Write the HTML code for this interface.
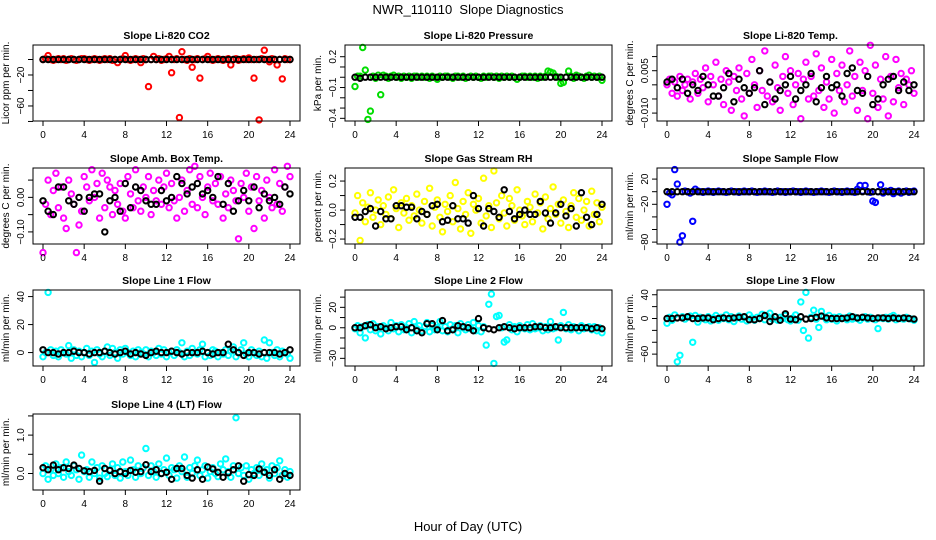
<!DOCTYPE html>
<html><head><meta charset="utf-8"><style>
body{margin:0;background:#fff}
svg{display:block;font-family:"Liberation Sans",sans-serif}
</style></head><body>
<svg id="c" width="936" height="540" viewBox="0 0 936 540">
<rect width="936" height="540" fill="#fff"/>
<text x="468" y="14" text-anchor="middle" font-size="13" style="white-space:pre">NWR_110110  Slope Diagnostics</text>
<text x="468" y="531" text-anchor="middle" font-size="13">Hour of Day (UTC)</text>
</svg>
<script>
const xTicks = [0,4,8,12,16,20,24];
const titles = ["Slope Li-820 CO2","Slope Li-820 Pressure","Slope Li-820 Temp.","Slope Amb. Box Temp.","Slope Gas Stream RH","Slope Sample Flow","Slope Line 1 Flow","Slope Line 2 Flow","Slope Line 3 Flow","Slope Line 4 (LT) Flow"];
const yTitles = ["Licor ppm per min.","kPa per min.","degrees C per min.","degrees C per min.","percent per min.","ml/min per min.","ml/min per min.","ml/min per min.","ml/min per min.","ml/min per min."];
const yRanges = [[-79.4,18.7],[-0.426,0.314],[-0.0128,0.0141],[-0.135,0.085],[-0.234,0.29],[-83,37.6],[-9.6,44.7],[-37.5,37],[-80,48],[-0.43,1.55]];
const yTickVals = [[0,-20,-40,-60,-80],[0.2,0.1,0,-0.1,-0.2,-0.3,-0.4],[0.01,0.005,0,-0.005,-0.01],[0.05,0,-0.05,-0.1],[0.2,0.1,0,-0.1,-0.2],[20,0,-20,-40,-60,-80],[40,20,0],[30,20,10,0,-10,-20,-30],[40,20,0,-20,-40,-60],[1.5,1.0,0.5,0.0]];
const yTickLabels = [{"-20":"−20","-60":"−60"},{"0.2":"0.2","-0.1":"−0.1","-0.4":"−0.4"},{"0.005":"0.005","-0.01":"−0.010"},{"0":"0.00","-0.1":"−0.10"},{"0.2":"0.2","0":"0.0","-0.2":"−0.2"},{"20":"20","-20":"−20","-80":"−80"},{"40":"40","20":"20","0":"0"},{"20":"20","0":"0","-30":"−30"},{"40":"40","0":"0","-60":"−60"},{"1":"1.0","0":"0.0"}];
const colors = ["#ff0000","#00dd00","#ff00ff","#ff00ff","#ffff00","#0000ff","#00ffff","#00ffff","#00ffff","#00ffff"];

const co2Color = [0,1,5,0,-1,0,1,0,1,-1,0,1,0,-1,0,1,1,0,-1,0,1,0,-1,0,1,0,1,-1,0,-4,0,1,5,0,-1,0,1,0,-4,1,0,-35,0,4,0,1,-1,0,1,4,-17,0,1,-75,10,0,-1,1,-10,0,1,-24,0,1,4,0,-1,0,1,0,-1,0,1,-7,0,1,-1,0,1,0,2,0,-24,0,-78,1,12,0,-3,1,0,-7,0,-25,1,0,0];
const co2Black = [0,0,0,0,0,0,0,0,0,0,0,0,0,0,0,0,0,0,0,0,0,0,0,0,0,0,0,0,0,0,0,0,0,0,0,0,0,0,0,0,0,0,0,0,0,0,0,0,0];
const presColor = [-0.09,0.01,0.01,0.29,0.07,-0.41,-0.33,0.01,-0.01,0.02,-0.17,0.02,0.01,-0.01,0.01,0.02,0,0.01,-0.01,0.01,0,0.01,-0.01,0.01,0.01,0,0.01,0,0.01,-0.01,0.01,0,-0.02,0.01,0,0.01,0.01,0,-0.01,0.01,0.01,0,0.01,-0.01,0,0.01,0,0.01,0,-0.01,0.01,0,0.01,0.01,0,0.01,-0.01,0.01,0,0.01,0,0.01,0,-0.02,0,0.01,0.01,0,0.01,0,0.01,-0.01,0.01,0,0.01,0.06,0.05,0.04,0.01,0,-0.06,-0.05,0,0.06,0.01,-0.01,0.02,0.01,0,-0.01,0.01,0.02,0,0.01,0,0.01,-0.03];
const presBlack = [0,-0.01,0,0,0,0,0,0,0,0,0,0,0,0,0,0,0,0,0,0,0,0,0,0,0,0,0,0,0,0,0,0,0,0,0,0,0,0,0,0,0,0,0,0,0,0,0,0,0];
const tempColor = [0,0.002,-0.003,0.001,-0.004,0.003,-0.002,0,0.002,-0.005,0.001,0.004,-0.003,0.002,-0.001,0.006,-0.006,0.003,0,0.008,-0.004,0.002,-0.007,0.005,0.001,-0.009,0.003,-0.002,0.006,-0.005,-0.011,0.004,-0.003,0.009,0,-0.008,0.005,-0.002,0.012,-0.004,0.001,-0.006,0.007,-0.001,-0.009,0.003,0.01,-0.003,0.005,-0.007,0,0.004,-0.012,0.002,0.008,-0.005,0.003,-0.004,0.011,-0.002,0.006,-0.008,0.001,-0.005,0.009,-0.01,0.004,-0.002,0.007,-0.006,0,0.012,-0.004,0.003,-0.009,0.008,-0.002,0.005,-0.012,0.014,-0.003,0.007,-0.008,0.002,-0.005,0.01,-0.011,0.003,-0.006,0.009,-0.001,0.004,-0.007,0.002,0,0.005,-0.003];
const tempBlack = [0.001,0.002,-0.001,0.002,-0.003,0,-0.002,0.003,0,-0.004,-0.004,-0.001,0.004,-0.006,0.002,-0.001,-0.003,-0.001,0.005,-0.007,0.001,-0.005,-0.002,0,0.003,-0.005,-0.002,0,0.004,-0.006,-0.001,0.003,-0.001,0,-0.004,0.004,0.006,-0.002,-0.003,0.003,-0.007,-0.005,0,0.002,0.003,-0.002,0.001,-0.002,0];
const boxColor = [-0.16,-0.02,0.05,-0.05,0.02,0.07,-0.03,0.03,-0.06,-0.09,0.05,0.01,-0.02,-0.16,-0.08,-0.04,0.06,0.03,-0.01,0.08,0,0.04,-0.06,0.07,-0.03,0.05,0.03,-0.05,0.02,-0.02,0.04,-0.04,-0.06,0.06,0.01,-0.03,0.08,-0.01,-0.04,0.03,0,0.06,-0.05,0.02,-0.01,0.05,-0.02,0.03,0.07,-0.03,0.04,-0.01,-0.06,0,0.05,-0.04,0.02,0.08,-0.02,0.09,-0.03,0.06,0,-0.05,0.03,0.07,-0.01,0.04,-0.02,0.06,-0.06,0.01,-0.03,0.05,0.02,-0.01,-0.12,0.04,0,0.07,-0.04,0.03,-0.09,0.06,-0.01,0.02,-0.06,0.05,0,-0.03,0.08,-0.02,0.04,-0.04,0.03,0.09,0.06];
const boxBlack = [-0.01,-0.04,-0.05,0.03,0.03,-0.01,-0.02,0,-0.04,0,0.01,0.01,-0.1,-0.01,0,-0.04,0.04,-0.03,0.03,0.02,-0.01,-0.02,-0.02,0.02,-0.01,0,0.06,0.04,0.01,0.03,0.04,0.01,0.02,0,0.06,-0.02,0.04,-0.04,-0.01,0.02,-0.01,0.03,-0.03,0.01,-0.01,0,-0.02,0.03,0.01];
const rhColor = [-0.02,0.1,-0.21,0.05,-0.08,0.02,0.12,-0.05,0,0.07,-0.1,0.03,-0.03,0.09,-0.06,0.14,0.01,-0.12,0.05,-0.02,0.08,-0.07,0.03,-0.04,0.11,0,-0.09,0.06,-0.03,0.15,-0.11,0.02,0.07,-0.05,-0.15,0.04,-0.01,0.1,-0.08,0.19,0.01,-0.13,0.06,-0.03,0.12,-0.16,0.04,0,0.08,-0.09,0.22,-0.04,0.03,-0.12,0.27,0.05,-0.06,0.1,-0.02,-0.11,0.08,0.03,-0.07,0.14,0,-0.04,-0.1,0.06,0.02,-0.08,0.11,-0.02,0.05,-0.13,0.09,-0.06,0.01,0.16,-0.03,0.04,-0.09,0.07,-0.01,-0.12,0.03,0.12,-0.05,0.08,-0.07,0,0.06,-0.11,0.13,-0.03,0.05,-0.08,0.02];
const rhBlack = [-0.05,-0.05,-0.01,0.01,-0.11,-0.01,-0.06,-0.06,0.03,0.03,0.02,0.02,-0.06,-0.01,-0.03,0.03,0.04,-0.08,-0.07,0.03,-0.06,-0.06,-0.09,0.1,0.01,-0.11,0.01,-0.01,-0.05,0.14,-0.01,-0.06,-0.03,0,-0.03,-0.03,0.06,-0.02,-0.09,-0.02,0.04,-0.04,0.01,-0.11,0.12,-0.05,-0.1,-0.03,0.04];
const sampColor = [-20,-2,-5,35,12,-80,-70,1,0,-2,-47,4,1,0,-1,0,1,0,-1,0,1,0,0,-1,0,1,0,0,-1,0,1,0,0,1,0,-1,0,0,1,0,0,-1,0,1,0,0,-1,0,0,1,0,0,-1,0,1,0,0,-1,0,0,1,0,0,-1,0,1,0,0,-1,0,1,0,0,-1,4,10,1,10,0,-1,-15,-17,0,11,-2,1,0,2,-3,0,1,-2,0,1,-1,0,1];
const sampBlack = [0,0,0,0,0,0,0,0,0,0,0,0,0,0,0,0,0,0,0,0,0,0,0,0,0,0,0,0,0,0,0,0,0,0,0,0,0,0,0,0,0,0,0,0,0,0,0,0,0];
const l1Color = [-3,0,43,2,-2,1,-3,2,0,-1,5,-4,2,-2,1,-3,0,3,-2,1,-7,2,-1,-3,1,4,-2,3,0,-4,2,-1,3,0,-2,1,-3,2,0,-1,2,-3,1,0,-2,3,-1,2,-3,0,1,-2,2,0,7,-3,1,-2,3,0,-1,2,6,-3,0,-2,2,1,-3,0,-1,2,-2,1,4,-3,0,2,7,-1,-3,2,0,-2,1,-3,9,-4,7,0,-2,2,-3,1,0,-1,-4];
const l1Black = [2,0,0,-1,0,0,1,0,0,-1,0,0,1,0,-1,0,1,-1,0,-1,-2,0,1,0,0,1,0,-1,0,0,0,1,0,-1,0,0,6,2,0,-2,0,0,-1,0,0,0,-1,0,2];
const l2Color = [-1,2,-5,1,-10,3,-2,4,-3,1,-6,2,0,-3,5,-1,2,-4,3,-2,0,4,-5,6,-1,2,-3,1,5,-4,2,-2,0,6,-3,1,-4,3,-1,2,-5,4,0,-2,3,-1,5,-3,2,-4,1,-17,23,33,-35,11,12,0,-14,-12,3,-2,1,-4,2,0,-1,3,-2,4,-1,0,2,-3,1,-2,6,-1,0,-12,2,15,-1,3,-2,1,0,-3,2,-1,0,1,-2,1,-3,0,-5];
const l2Black = [0,0,2,3,0,1,-1,0,1,1,-2,0,-3,-5,4,4,-2,7,-3,-2,2,1,0,-3,9,0,-1,-2,0,1,0,-1,0,0,0,1,1,0,0,1,0,0,0,0,0,0,-1,0,-1];
const l3Color = [-8,2,-3,6,-73,-62,3,-1,2,4,-40,5,-6,2,0,-2,3,-4,1,5,-3,2,0,6,-2,3,-5,1,4,-1,2,-4,6,1,-3,2,0,7,-2,4,9,-1,3,-3,2,0,5,-2,-4,1,6,-3,28,-20,44,-33,2,14,-1,-15,12,3,-2,5,-1,2,-4,3,0,1,-2,4,-1,2,0,-3,1,3,-1,2,0,-2,-17,1,0,2,-1,3,5,-2,1,0,-1,2,0,-1,-3];
const l3Black = [0,0,1,1,3,0,0,1,1,-2,0,1,0,1,2,3,-2,-2,0,5,-5,3,-3,8,-1,-2,3,-1,0,2,4,1,0,0,0,1,3,1,2,1,0,1,1,0,1,0,1,0,-1];
const l4Color = [0,0.2,-0.15,0.1,-0.05,0.25,0,0.15,-0.1,0.3,0.05,-0.05,0.2,0.1,-0.15,0.48,0.05,0.1,-0.1,0.3,0,0.15,-0.12,0.2,0,-0.08,0.1,0.25,-0.05,0.15,-0.12,0.3,0.05,-0.05,0.35,0.1,-0.1,0.2,0,0.15,0.65,-0.05,0.2,0.05,-0.1,0.25,0,0.1,0.4,-0.05,0.15,0.1,-0.12,0.2,0.05,0.43,-0.1,0.15,0,0.2,0.35,-0.05,0.1,0.2,-0.12,0.05,0.15,0,-0.08,0.25,0.1,0.38,0.05,-0.1,0.2,1.45,0,0.15,-0.05,0.2,-0.15,0.1,0,0.15,-0.05,0.25,0.05,0.1,-0.12,0.2,0,0.15,0.33,-0.05,0.1,-0.1,0.05];
const l4Black = [0.15,0.1,0.22,0.1,0.15,0.13,0.22,0.13,0.07,0.05,0.08,-0.2,0.13,0.08,0,0.05,0,0.08,0.03,0.05,0.23,0.05,0.1,0,0.03,-0.15,0.13,0.13,-0.05,-0.12,0.1,-0.15,0.17,0.12,0.03,-0.1,0.02,0.1,0.2,-0.2,-0.03,-0.05,0.12,0.03,-0.05,0.1,-0.15,0,-0.05];
const colorSeries = [co2Color,presColor,tempColor,boxColor,rhColor,sampColor,l1Color,l2Color,l3Color,l4Color];
const blackSeries = [co2Black,presBlack,tempBlack,boxBlack,rhBlack,sampBlack,l1Black,l2Black,l3Black,l4Black];

const NS = "http://www.w3.org/2000/svg";
const svg = document.getElementById('c');
const colLeft = [33,345,657], rowTop = [45,168,290,414], W = 267, H = 76;
function mk(tag, attrs, parent){const e=document.createElementNS(NS,tag);for(const k in attrs)e.setAttribute(k,attrs[k]);(parent||svg).appendChild(e);return e;}

titles.forEach((title,p)=>{
  const L = colLeft[p%3], T = rowTop[Math.floor(p/3)];
  const g = mk('g',{});
  
  
  const xs = h => L + 10 + h*(W-20)/24;
  const [y0,y1] = yRanges[p];
  const ys = v => T + H - (v - y0)/(y1 - y0)*H;
  const dot = (h,v,col,name)=>{
    const c = mk('circle',{cx:xs(h).toFixed(1),cy:ys(v).toFixed(1),r:2.7,fill:'none',stroke:col,'stroke-width':2},g);
    
    
  };
  const cs = colorSeries[p];
  cs.forEach((v,i)=>dot(24*i/(cs.length-1),v,colors[p],'color-point'));
  const bs = blackSeries[p];
  bs.forEach((v,i)=>dot(24*i/(bs.length-1),v,'#000','black-point'));
  const box = mk('rect',{x:L,y:T,width:W,height:H,fill:'none',stroke:'#000','stroke-width':1},g);
  
  
  const t = mk('text',{x:L+W/2,y:T-6,'text-anchor':'middle','font-size':10.5,'font-weight':'bold'},g);
  t.textContent = title;
  
  
  mk('line',{x1:xs(0),x2:xs(24),y1:T+H,y2:T+H,stroke:'#000'},g);
  xTicks.forEach(h=>{
    mk('line',{x1:xs(h),x2:xs(h),y1:T+H,y2:T+H+5,stroke:'#000'},g);
    const tl = mk('text',{x:xs(h),y:T+H+17,'text-anchor':'middle','font-size':10},g);
    tl.textContent = h;
    
    
  });
  const tv = yTickVals[p];
  mk('line',{x1:L,x2:L,y1:ys(Math.max(...tv)),y2:ys(Math.min(...tv)),stroke:'#000'},g);
  tv.forEach(v=>{
    const y = ys(v);
    mk('line',{x1:L-5,x2:L,y1:y,y2:y,stroke:'#000'},g);
    const lab = yTickLabels[p][String(v)];
    if(lab){
      const tl = mk('text',{x:L-9,y:y,'text-anchor':'middle','font-size':10,transform:`rotate(-90 ${L-9} ${y})`},g);
      tl.textContent = lab;
      
      
    }
  });
  const yt = mk('text',{x:L-24,y:T+H/2,'text-anchor':'middle','font-size':10,transform:`rotate(-90 ${L-24} ${T+H/2})`},g);
  yt.textContent = yTitles[p];
  
  
});
</script>
</body></html>
